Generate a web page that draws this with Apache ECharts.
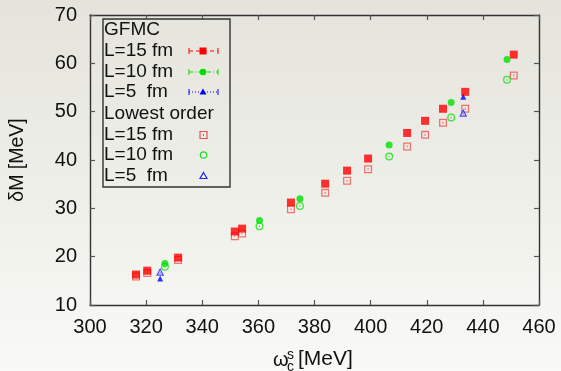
<!DOCTYPE html>
<html>
<head>
<meta charset="utf-8">
<script src="https://cdn.jsdelivr.net/npm/echarts@6/dist/echarts.min.js"></script>
<style>
  html, body { margin: 0; padding: 0; }
  #chart { width: 561px; height: 371px; }
</style>
</head>
<body>
<div id="chart"></div>
<script>
// GFMC results, L = 15 / 10 / 5 fm
const gfmc15X = [316.4, 320.4, 331.4, 351.6, 354.2, 371.6, 383.8, 391.6, 399.1, 413.0, 419.4, 425.8, 433.7, 451.0];
const gfmc15Y = [16.3, 17.1, 19.8, 25.2, 25.8, 31.2, 35.1, 37.8, 40.3, 45.6, 48.1, 50.6, 54.1, 61.8];
const gfmc10X = [326.7, 360.4, 374.8, 406.6, 428.7, 448.6];
const gfmc10Y = [18.6, 27.5, 32.0, 43.1, 51.9, 60.8];
const gfmc5X = [325.0, 433.0];
const gfmc5Y = [15.5, 53.1];
// lowest order, same x positions
const low15Y = [15.9, 16.6, 19.3, 24.2, 24.8, 29.8, 33.2, 35.7, 38.1, 42.8, 45.2, 47.7, 50.6, 57.5];
const low10Y = [17.9, 26.3, 30.5, 40.7, 48.8, 56.6];
const low5Y = [16.9, 49.8];

const xTicks = [300, 320, 340, 360, 380, 400, 420, 440, 460];
const yTicks = [10, 20, 30, 40, 50, 60, 70];

const FONT = "Liberation Sans";
const pairs = (xs, ys) => xs.map((x, i) => [x, ys[i]]);

// open symbols with the small dot in the middle
const openSquare = "path://M0,0H10V10H0Z M1.6,1.6V8.4H8.4V1.6Z M4.4,3.6H5.6V6.4H4.4Z";
const openCircle = "path://M5,0A5,5 0 1,1 5,10A5,5 0 1,1 5,0Z M5,1.6A3.4,3.4 0 1,0 5,8.4A3.4,3.4 0 1,0 5,1.6Z M4.4,3.8H5.6V6.2H4.4Z";
const openTri = "path://M5,0L10,9H0Z M5,3L2.6,7.6H7.4Z M4.5,5.2H5.5V7H4.5Z";

const chart = echarts.init(document.getElementById("chart"));

const axisLine = { lineStyle: { color: "#333", width: 1.4 } };
const tick = { inside: true, length: 5, lineStyle: { color: "#555", width: 1.2 } };

// legend rows
const rowY = [30, 51, 72, 92, 114, 135, 155, 176];
const legendTexts = ["GFMC", "L=15 fm", "L=10 fm", "L=5  fm", "Lowest order", "L=15 fm", "L=10 fm", "L=5  fm"];

const graphic = [
  { type: "rect", shape: { x: 103, y: 19, width: 127, height: 168 },
    style: { fill: "none", stroke: "#333", lineWidth: 1.4 } },
];
legendTexts.forEach((t, i) => {
  graphic.push({ type: "text", x: 104, y: rowY[i],
    style: { text: t, font: "19px " + FONT, fill: "#111", textVerticalAlign: "middle" } });
});
// GFMC samples: line with end bars + symbol
const samples = [
  { y: rowY[1], color: "#ff0000", dash: [4, 3], sym: "rect" },
  { y: rowY[2], color: "#00dd00", dash: [4, 2, 1, 2], sym: "circle" },
  { y: rowY[3], color: "#0000ff", dash: [1, 2], sym: "tri" },
];
samples.forEach(s => {
  graphic.push({ type: "line", shape: { x1: 189, y1: s.y, x2: 218, y2: s.y },
    style: { stroke: s.color, lineWidth: 1, lineDash: s.dash } });
  graphic.push({ type: "line", shape: { x1: 189, y1: s.y - 3, x2: 189, y2: s.y + 3 }, style: { stroke: s.color, lineWidth: 1 } });
  graphic.push({ type: "line", shape: { x1: 218, y1: s.y - 3, x2: 218, y2: s.y + 3 }, style: { stroke: s.color, lineWidth: 1 } });
  if (s.sym === "rect") graphic.push({ type: "rect", shape: { x: 199.5, y: s.y - 3.5, width: 7, height: 7 }, style: { fill: s.color } });
  if (s.sym === "circle") graphic.push({ type: "circle", shape: { cx: 203, cy: s.y, r: 3.3 }, style: { fill: s.color } });
  if (s.sym === "tri") graphic.push({ type: "polygon", shape: { points: [[203, s.y - 3.5], [206.5, s.y + 2.5], [199.5, s.y + 2.5]] }, style: { fill: s.color } });
});
// lowest-order samples: open symbols only
graphic.push({ type: "rect", shape: { x: 200, y: rowY[5] - 3.5, width: 7, height: 7 }, style: { fill: "none", stroke: "#f05050", lineWidth: 1.2 } });
graphic.push({ type: "rect", shape: { x: 203, y: rowY[5] - 1, width: 1, height: 2 }, style: { fill: "#f05050" } });
graphic.push({ type: "circle", shape: { cx: 203.5, cy: rowY[6], r: 3.2 }, style: { fill: "none", stroke: "#22dd22", lineWidth: 1.2 } });
graphic.push({ type: "polygon", shape: { points: [[203.5, rowY[7] - 3.5], [207, rowY[7] + 2.5], [200, rowY[7] + 2.5]] }, style: { fill: "none", stroke: "#2222ff", lineWidth: 1.2 } });

// x axis title: omega with sub c and sup s
graphic.push({ type: "text", x: 273, y: 360, style: { text: "ω", font: "20px " + FONT, fill: "#111", textVerticalAlign: "middle" } });
graphic.push({ type: "text", x: 287, y: 355, style: { text: "s", font: "14px " + FONT, fill: "#111", textVerticalAlign: "middle" } });
graphic.push({ type: "text", x: 287, y: 367, style: { text: "c", font: "14px " + FONT, fill: "#111", textVerticalAlign: "middle" } });
graphic.push({ type: "text", x: 298, y: 359, style: { text: "[MeV]", font: "21px " + FONT, fill: "#111", textVerticalAlign: "middle" } });

const option = {
  backgroundColor: new echarts.graphic.LinearGradient(0, 0, 0, 1, [
    { offset: 0, color: "#e4e4dc" },
    { offset: 1, color: "#f9f9f6" },
  ]),
  animation: false,
  grid: { left: 90, right: 22, top: 15, bottom: 66 },
  xAxis: [
    {
      type: "value", min: xTicks[0], max: xTicks[xTicks.length - 1], interval: 20,
      axisLine, axisTick: tick, splitLine: { show: false },
      axisLabel: { color: "#111", fontSize: 20, fontFamily: FONT, margin: 12 },
    },
    {
      type: "value", position: "top", min: xTicks[0], max: xTicks[xTicks.length - 1], interval: 20,
      axisLine, axisTick: tick, splitLine: { show: false }, axisLabel: { show: false },
    },
  ],
  yAxis: [
    {
      type: "value", min: yTicks[0], max: yTicks[yTicks.length - 1], interval: 10,
      axisLine, axisTick: tick, splitLine: { show: false },
      axisLabel: { color: "#111", fontSize: 20, fontFamily: FONT, margin: 13 },
      name: "δM [MeV]", nameLocation: "middle", nameGap: 62, nameRotate: 90,
      nameTextStyle: { color: "#111", fontSize: 19.5, fontFamily: FONT },
    },
    {
      type: "value", position: "right", min: yTicks[0], max: yTicks[yTicks.length - 1], interval: 10,
      axisLine, axisTick: tick, splitLine: { show: false }, axisLabel: { show: false },
    },
  ],
  series: [
    { name: "Lowest L=15", type: "scatter", data: pairs(gfmc15X, low15Y), symbol: openSquare, symbolSize: 8,
      itemStyle: { color: "#f04848", opacity: 0.75 } },
    { name: "Lowest L=10", type: "scatter", data: pairs(gfmc10X, low10Y), symbol: openCircle, symbolSize: 8,
      itemStyle: { color: "#20e020", opacity: 0.85 } },
    { name: "Lowest L=5", type: "scatter", data: pairs(gfmc5X, low5Y), symbol: openTri, symbolSize: 8,
      itemStyle: { color: "#2020ff", opacity: 0.8 } },
    { name: "GFMC L=15", type: "scatter", data: pairs(gfmc15X, gfmc15Y), symbol: "rect", symbolSize: 8,
      itemStyle: { color: "#ff0000" } },
    { name: "GFMC L=10", type: "scatter", data: pairs(gfmc10X, gfmc10Y), symbol: "circle", symbolSize: 7,
      itemStyle: { color: "#00e000" } },
    { name: "GFMC L=5", type: "scatter", data: pairs(gfmc5X, gfmc5Y), symbol: "triangle", symbolSize: 6,
      itemStyle: { color: "#0000ff" } },
  ],
  graphic,
};
chart.setOption(option);
</script>
</body>
</html>
